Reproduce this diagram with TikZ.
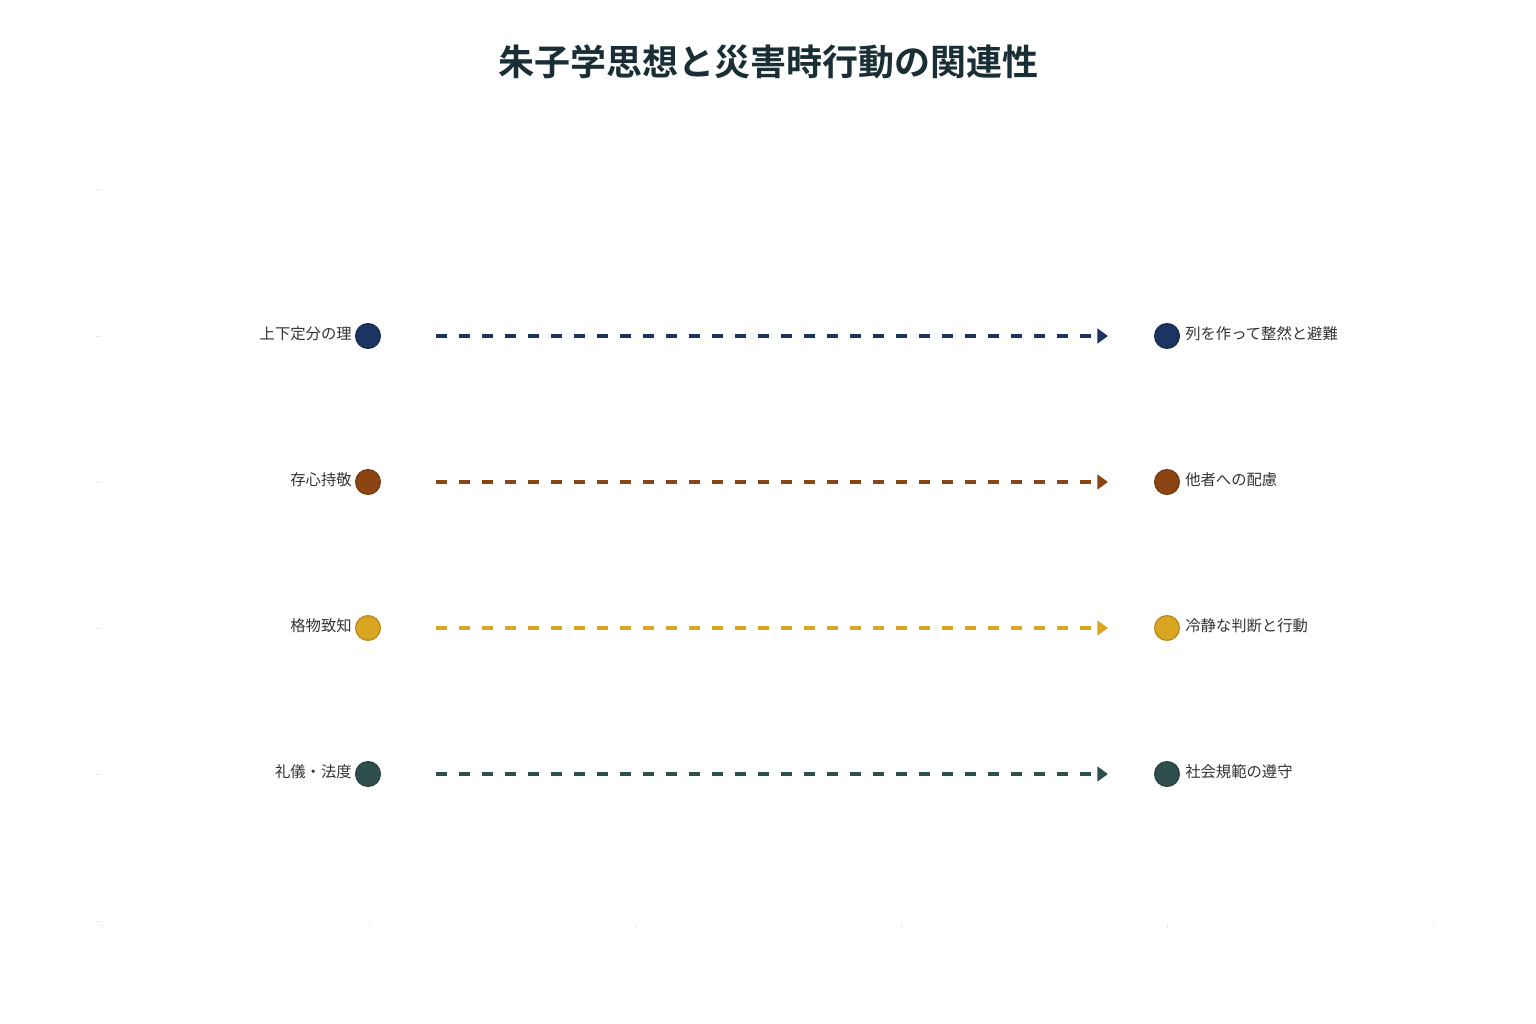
\documentclass[tikz,border=0pt]{standalone}
\usepackage{fontspec}
\newfontfamily\cjk{Noto Sans CJK JP}
\newfontfamily\cjkbold{Noto Sans CJK JP Bold}
\usetikzlibrary{arrows.meta}
\definecolor{cnavy}{HTML}{1B3461}
\definecolor{cbrown}{HTML}{8B4513}
\definecolor{cgold}{HTML}{DAA520}
\definecolor{cteal}{HTML}{2F4F4F}
\definecolor{ctitle}{HTML}{1A2E35}
\definecolor{ctext}{HTML}{333333}
\definecolor{ctick}{HTML}{EBEBEB}
\tikzset{
  dot/.style={circle, minimum size=18.5pt, inner sep=0pt, line width=1pt},
  lbl/.style={font=\cjk\fontsize{11.5pt}{13pt}\selectfont, text=ctext, inner sep=0pt},
  link/.style={line width=2.6pt, dash pattern=on 8.25pt off 9pt, -{Triangle[length=8pt,width=11pt]}},
  tickline/.style={draw=ctick, line width=0.75pt}
}
\begin{document}
\begin{tikzpicture}[x=0.75pt,y=-0.75pt]
\useasboundingbox (0,0) rectangle (1536,1024);
\fill[white] (0,0) rectangle (1536,1024);
\node[font=\cjkbold\fontsize{27pt}{32pt}\selectfont, text=ctitle] (title) at (768,62) {朱子学思想と災害時行動の関連性};
% faint axis ticks
\foreach \y in {189,336,482,628,774,921} { \draw[tickline] (95,\y) -- (101,\y); }
\foreach \x in {102,369,635,901,1167,1433} { \draw[tickline] (\x,924) -- (\x,929); }
% rows
\foreach \y/\c/\a/\b/\n in {336/cnavy/上下定分の理/列を作って整然と避難/r1, 482/cbrown/存心持敬/他者への配慮/r2, 628/cgold/格物致知/冷静な判断と行動/r3, 774/cteal/礼儀・法度/社会規範の遵守/r4} {
  \node[dot, fill=\c, draw=\c!85!black] (\n L) at (368,\y) {};
  \node[dot, fill=\c, draw=\c!85!black] (\n R) at (1167,\y) {};
  \node[lbl, anchor=east] (\n LT) at (352,\y-2) {\a};
  \node[lbl, anchor=west] (\n RT) at (1185,\y-2) {\b};
  \coordinate (\n s) at (436,\y);
  \coordinate (\n e) at (1108,\y);
  \draw[link, draw=\c] (\n s) -- (\n e);
}
\end{tikzpicture}
\end{document}
